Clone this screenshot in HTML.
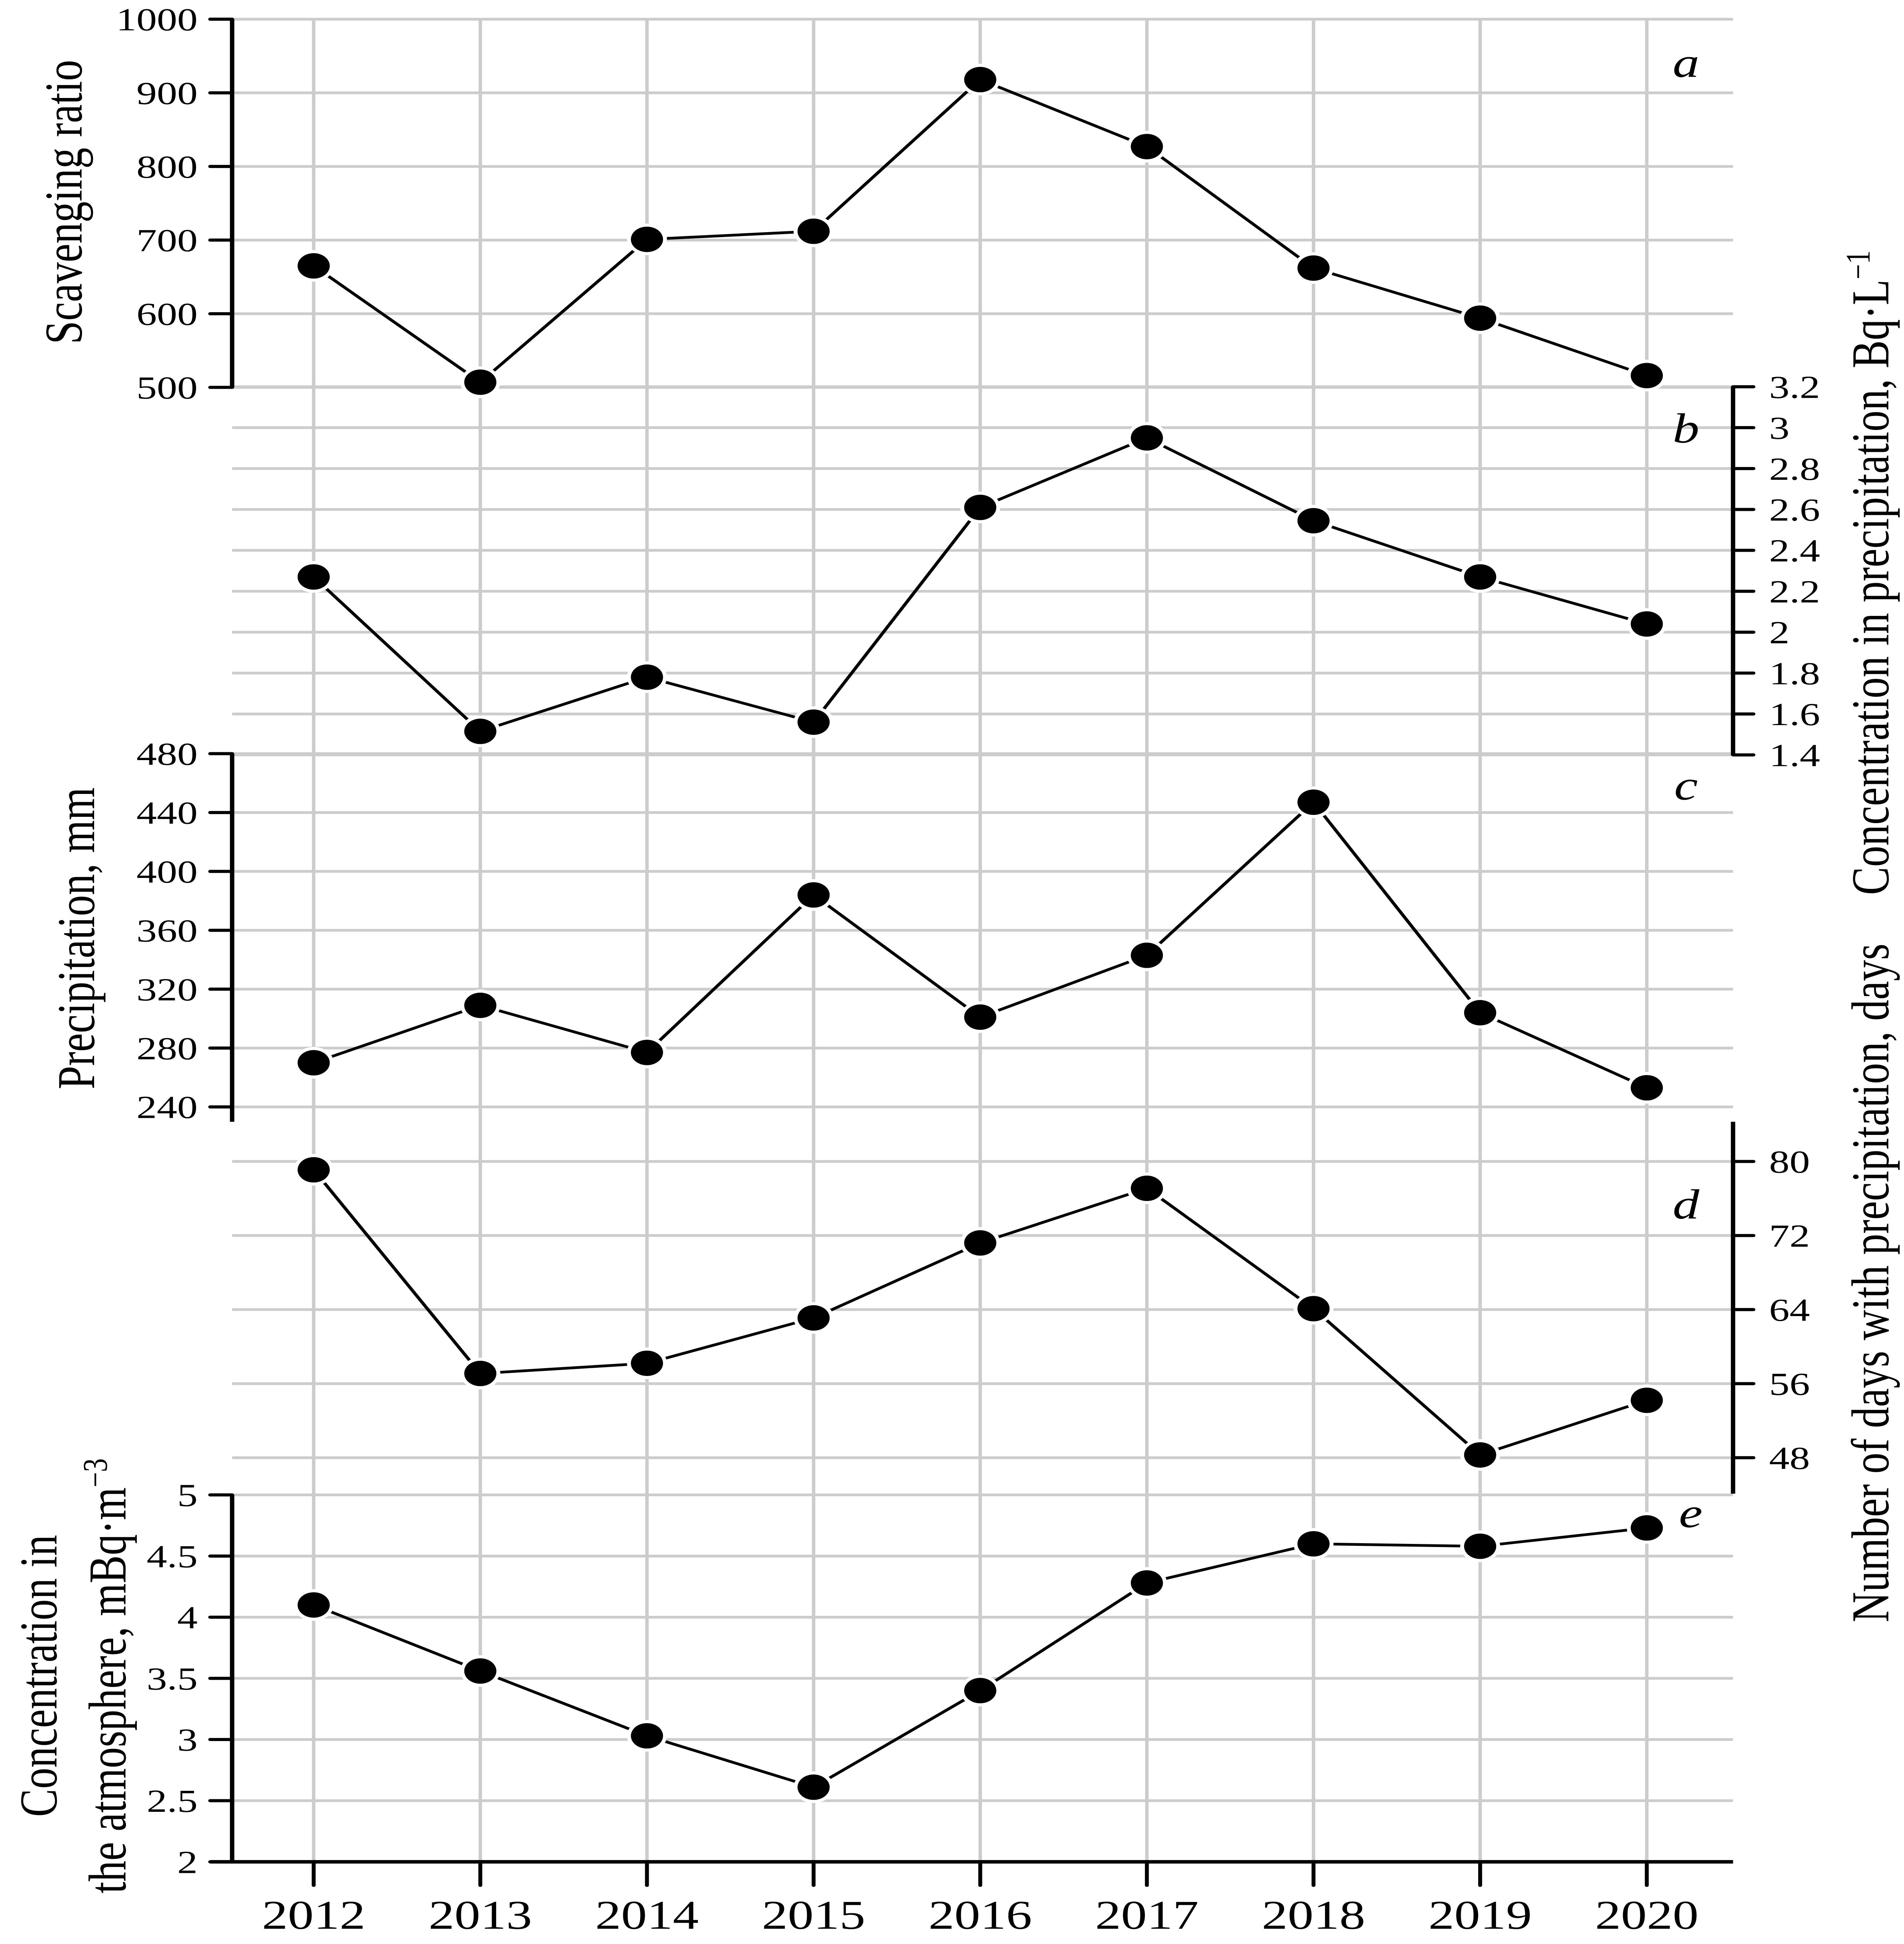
<!DOCTYPE html>
<html><head><meta charset="utf-8"><style>
html,body{margin:0;padding:0;background:#fff;width:100vw;height:100vh;overflow:hidden}
#wrap{position:fixed;left:0;top:0;width:100vw;height:100vh;overflow:hidden}
svg{display:block;position:absolute;left:0;top:0;width:100%;height:100%}
text{font-family:"Liberation Serif",serif;fill:#000}
</style></head><body>
<div id="wrap">
<svg id="chart" xmlns="http://www.w3.org/2000/svg" viewBox="0 0 1214 1568.3" preserveAspectRatio="none">
<rect width="1214" height="1568.3" fill="#fff"/>
<g id="grid"></g>
<g id="axes"></g>
<g id="series"></g>
<g id="labels"></g>
<g font-family="Liberation Serif, serif" font-size="34">
<text x="1075" y="62" font-style="italic" text-anchor="middle">a</text>
<text x="1075" y="357" font-style="italic" text-anchor="middle">b</text>
<text x="1075" y="645" font-style="italic" text-anchor="middle">c</text>
<text x="1075" y="983" font-style="italic" text-anchor="middle">d</text>
<text x="1078" y="1232" font-style="italic" text-anchor="middle">e</text>
<text transform="translate(52,163) rotate(-90)" text-anchor="middle">Scavenging ratio</text>
<text transform="translate(60,757) rotate(-90)" text-anchor="middle">Precipitation, mm</text>
<text transform="translate(36,1352) rotate(-90)" text-anchor="middle">Concentration in</text>
<text transform="translate(80,1352) rotate(-90)" text-anchor="middle">the atmosphere, mBq·m<tspan font-size="22" dy="-12">−3</tspan></text>
<text transform="translate(1204,462) rotate(-90)" text-anchor="middle">Concentration in precipitation, Bq·L<tspan font-size="22" dy="-12">−1</tspan></text>
<text transform="translate(1204,1035) rotate(-90)" text-anchor="middle">Number of days with precipitation, days</text>
</g>
</svg>
</div>
<script>
const years = ['2012','2013','2014','2015','2016','2017','2018','2019','2020'];
const scavengingRatio = [665, 507, 701, 712, 918, 827, 662, 594, 516];
const concPrecip = [2.27, 1.515, 1.78, 1.56, 2.61, 2.95, 2.545, 2.27, 2.04];
const precipitation = [270, 309, 277, 384, 301, 343, 447, 304, 253];
const daysPrecip = [79.1, 57.1, 58.2, 63.1, 71.2, 77.1, 64.1, 48.3, 54.2];
const concAtmos = [4.10, 3.56, 3.03, 2.61, 3.40, 4.28, 4.60, 4.58, 4.73];
const ticksA = [500, 600, 700, 800, 900, 1000];
const ticksB = [1.4, 1.6, 1.8, 2, 2.2, 2.4, 2.6, 2.8, 3, 3.2];
const ticksC = [240, 280, 320, 360, 400, 440, 480];
const ticksD = [48, 56, 64, 72, 80];
const ticksE = [2, 2.5, 3, 3.5, 4, 4.5, 5];

const NS='http://www.w3.org/2000/svg';
const XL=148, XR=1105, GridTop=16, GridBottom=1502;
function xPos(i){return 200 + i*106.25;}
function mk(tag, attrs, parent){const e=document.createElementNS(NS,tag);for(const k in attrs)e.setAttribute(k,attrs[k]);parent.appendChild(e);return e;}
const gG=document.getElementById('grid'), gA=document.getElementById('axes'), gS=document.getElementById('series'), gL=document.getElementById('labels');

const panels=[
 {key:'a', data:scavengingRatio, ticks:ticksA, v0:500, v1:1000, y0:312.5, y1:15.5, side:'left', axTop:15.5, axBot:312.5, fmt:v=>String(v)},
 {key:'b', data:concPrecip, ticks:ticksB, v0:1.4, v1:3.2, y0:609, y1:312, side:'right', axTop:312, axBot:609, fmt:v=>String(+v.toFixed(1))},
 {key:'c', data:precipitation, ticks:ticksC, v0:240, v1:480, y0:893, y1:608, side:'left', axTop:608, axBot:905, fmt:v=>String(v)},
 {key:'d', data:daysPrecip, ticks:ticksD, v0:48, v1:80, y0:1176, y1:937, side:'right', axTop:905, axBot:1205, fmt:v=>String(v)},
 {key:'e', data:concAtmos, ticks:ticksE, v0:2, v1:5, y0:1502, y1:1206, side:'left', axTop:1206, axBot:1502, fmt:v=>String(v)}
];
function yScale(p,v){return p.y0 + (v-p.v0)/(p.v1-p.v0)*(p.y1-p.y0);}

years.forEach((y,i)=>{
  const l=mk('line',{x1:xPos(i),x2:xPos(i),y1:GridTop,y2:GridBottom,stroke:'#cccccc','stroke-width':2.2},gG);
  
  
});

panels.forEach(p=>{
  p.ticks.forEach(t=>{
    const y=yScale(p,t);
    const gl=mk('line',{x1:XL,x2:XR,y1:y,y2:y,stroke:'#cccccc','stroke-width':2.2},gG);
    
    
    if(p.side==='left'){
      const tk=mk('line',{x1:XL-14,x2:XL,y1:y,y2:y,stroke:'#000','stroke-width':2.5,'stroke-linecap':'round'},gA);
      
      
      const tx=mk('text',{x:XL-22,y:y+9,'font-size':26,'text-anchor':'end'},gL);
      tx.textContent=p.fmt(t);
      
      
    } else {
      const tk=mk('line',{x1:XR,x2:XR+13,y1:y,y2:y,stroke:'#000','stroke-width':2.5,'stroke-linecap':'round'},gA);
      
      
      const tx=mk('text',{x:XR+23,y:y+9,'font-size':26,'text-anchor':'start'},gL);
      tx.textContent=p.fmt(t);
      
      
    }
  });
  const ax=p.side==='left'?XL:XR;
  const al=mk('line',{x1:ax,x2:ax,y1:p.axTop,y2:p.axBot,stroke:'#000','stroke-width':2.8},gA);
  
  
  const pts=p.data.map((v,i)=>xPos(i)+','+yScale(p,v)).join(' ');
  const pl=mk('polyline',{points:pts,fill:'none',stroke:'#000','stroke-width':2.2},gS);
  
  
  p.data.forEach((v,i)=>{
    const c=mk('circle',{cx:xPos(i),cy:yScale(p,v),r:11.5,fill:'#000',stroke:'#fff','stroke-width':2.5},gS);
    
    
  });
});

const bx=mk('line',{x1:XL-14,x2:XR,y1:GridBottom,y2:GridBottom,stroke:'#000','stroke-width':2.8},gA);


years.forEach((y,i)=>{
  const t=mk('line',{x1:xPos(i),x2:xPos(i),y1:GridBottom,y2:GridBottom+19,stroke:'#000','stroke-width':2.5,'stroke-linecap':'round'},gA);
  
  
  const tx=mk('text',{x:xPos(i),y:1556,'font-size':33,'text-anchor':'middle'},gL);
  tx.textContent=y;
  
  
});
</script>
</body></html>
